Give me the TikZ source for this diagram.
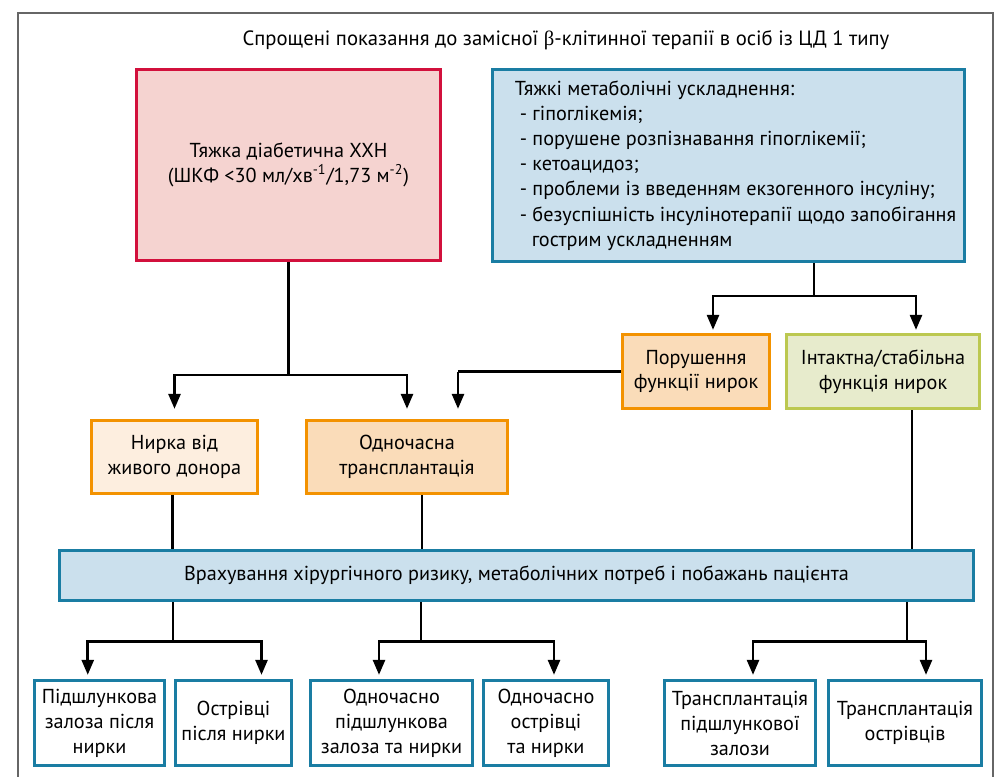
\documentclass[tikz,border=0pt]{standalone}
\usepackage{fontspec}
\setmainfont{PT Sans}
\newfontfamily\greekfont{Liberation Serif}
\usepackage{tikz}
\usetikzlibrary{arrows.meta}

\definecolor{crimson}{HTML}{D2103C}
\definecolor{pinkfill}{HTML}{F5D3D0}
\definecolor{tealblue}{HTML}{1A7DA3}
\definecolor{bluefill}{HTML}{CBE0ED}
\definecolor{orangeline}{HTML}{F39200}
\definecolor{orangefill}{HTML}{FADCB9}
\definecolor{orangepale}{HTML}{FDEEDF}
\definecolor{oliveline}{HTML}{BCC850}
\definecolor{olivefill}{HTML}{E7EBCC}

\begin{document}
\begin{tikzpicture}[
  font=\fontsize{11.5}{14.2}\selectfont,
  box/.style={draw,line width=1.6pt,align=center,inner sep=0pt},
  redbox/.style={box,draw=crimson,fill=pinkfill},
  bluebox/.style={box,draw=tealblue,fill=bluefill},
  orangebox/.style={box,draw=orangeline,fill=orangefill},
  palebox/.style={box,draw=orangeline,fill=orangepale},
  greenbox/.style={box,draw=oliveline,fill=olivefill},
  leafbox/.style={box,draw=tealblue,fill=white,minimum height=1.71cm},
  conn/.style={line width=1.5pt},
  >={Triangle[length=0.3cm,width=0.24cm]}
]
\useasboundingbox (0,0) rectangle (19.98,-15.52);
\draw[black!60,line width=0.6pt] (0.36,-15.6) -- (0.36,-0.26) -- (19.86,-0.26) -- (19.86,-15.6);

\node[font=\fontsize{11.75}{14.2}\selectfont] (title) at (11.32,-0.80) {Спрощені показання до замісної {\greekfont β}-клітинної терапії в осіб із ЦД 1 типу};

\node[redbox,minimum width=6.09cm,minimum height=3.83cm] (ckd) at (5.77,-3.30)
  {Тяжка діабетична ХХН\\(ШКФ <30 мл/хв\textsuperscript{-1}/1,73 м\textsuperscript{-2})};
\node[bluebox,align=left,minimum width=9.45cm,minimum height=3.85cm,font=\fontsize{11.5}{14.3}\selectfont] (metab) at (14.57,-3.31)
  {\hspace*{0.28cm}Тяжкі метаболічні ускладнення:\\
   \hspace*{0.38cm}- гіпоглікемія;\\
   \hspace*{0.38cm}- порушене розпізнавання гіпоглікемії;\\
   \hspace*{0.38cm}- кетоацидоз;\\
   \hspace*{0.38cm}- проблеми із введенням екзогенного інсуліну;\\
   \hspace*{0.38cm}- безуспішність інсулінотерапії щодо запобігання\\
   \hspace*{0.62cm}гострим ускладненням};

\node[orangebox,minimum width=2.95cm,minimum height=1.49cm] (impaired) at (13.92,-7.43) {Порушення\\функції нирок};
\node[greenbox,minimum width=3.87cm,minimum height=1.49cm] (intact) at (17.66,-7.43) {Інтактна/стабільна\\функція нирок};

\node[palebox,minimum width=3.33cm,minimum height=1.47cm] (living) at (3.49,-9.14) {Нирка від\\живого донора};
\node[orangebox,minimum width=4.03cm,minimum height=1.47cm] (simult) at (8.14,-9.14) {Одночасна\\трансплантація};

\node[bluebox,minimum width=18.29cm,minimum height=1.01cm] (risk) at (10.33,-11.51)
  {Врахування хірургічного ризику, метаболічних потреб і побажань пацієнта};

\node[leafbox,minimum width=2.61cm] (pak) at (1.99,-14.46) {Підшлункова\\залоза після\\нирки};
\node[leafbox,minimum width=2.33cm] (iak) at (4.67,-14.46) {Острівці\\після нирки};
\node[leafbox,minimum width=3.25cm] (spk) at (7.83,-14.46) {Одночасно\\підшлункова\\залоза та нирки};
\node[leafbox,minimum width=2.51cm] (sik) at (10.92,-14.46) {Одночасно\\острівці\\та нирки};
\node[leafbox,minimum width=3.03cm] (pta) at (14.80,-14.46) {Трансплантація\\підшлункової\\залози};
\node[leafbox,minimum width=3.07cm] (ita) at (18.10,-14.46) {Трансплантація\\острівців};

% from the kidney disease box
\coordinate (j1) at (5.77,-7.50);
\draw[conn] (ckd) -- (j1);
\draw[conn,->,shorten >=0.2cm] (j1) -| (living);
\draw[conn,->,shorten >=0.2cm] (j1) -| (simult);

% impaired kidneys -> simultaneous
\coordinate (j2) at (9.16,-7.43);
\draw[conn] (impaired) -- (j2);
\draw[conn,->,shorten >=0.2cm] (j2) -- (j2 |- simult.north);

% from the metabolic box
\coordinate (j3) at (16.28,-5.92);
\draw[conn] (j3 |- metab.south) -- (j3);
\draw[conn,->,shorten >=0.06cm] (j3) -| ([xshift=0.34cm]impaired.north);
\draw[conn,->,shorten >=0.06cm] (j3) -| ([xshift=0.66cm]intact.north);

% into the risk box
\coordinate (k1) at ([xshift=-0.04cm]living.south);
\coordinate (k2) at ([xshift=0.3cm]simult.south);
\coordinate (k3) at ([xshift=0.58cm]intact.south);
\draw[conn] (k1) -- (k1 |- risk.north);
\draw[conn] (k2) -- (k2 |- risk.north);
\draw[conn] (k3) -- (k3 |- risk.north);

% out of the risk box
\coordinate (j4) at (3.46,-12.83);
\coordinate (j5) at (8.42,-12.83);
\coordinate (j6) at (18.14,-12.83);
\draw[conn] (j4 |- risk.south) -- (j4);
\draw[conn,->,shorten >=0.08cm] (j4) -| ([xshift=-0.235cm]pak.north);
\draw[conn,->,shorten >=0.08cm] (j4) -| ([xshift=0.56cm]iak.north);
\draw[conn] (j5 |- risk.south) -- (j5);
\draw[conn,->,shorten >=0.08cm] (j5) -| ([xshift=-0.25cm]spk.north);
\draw[conn,->,shorten >=0.08cm] (j5) -| ([xshift=0.16cm]sik.north);
\draw[conn] (j6 |- risk.south) -- (j6);
\draw[conn,->,shorten >=0.08cm] (j6) -| ([xshift=0.26cm]pta.north);
\draw[conn,->,shorten >=0.08cm] (j6) -| ([xshift=0.42cm]ita.north);

\end{tikzpicture}
\end{document}
